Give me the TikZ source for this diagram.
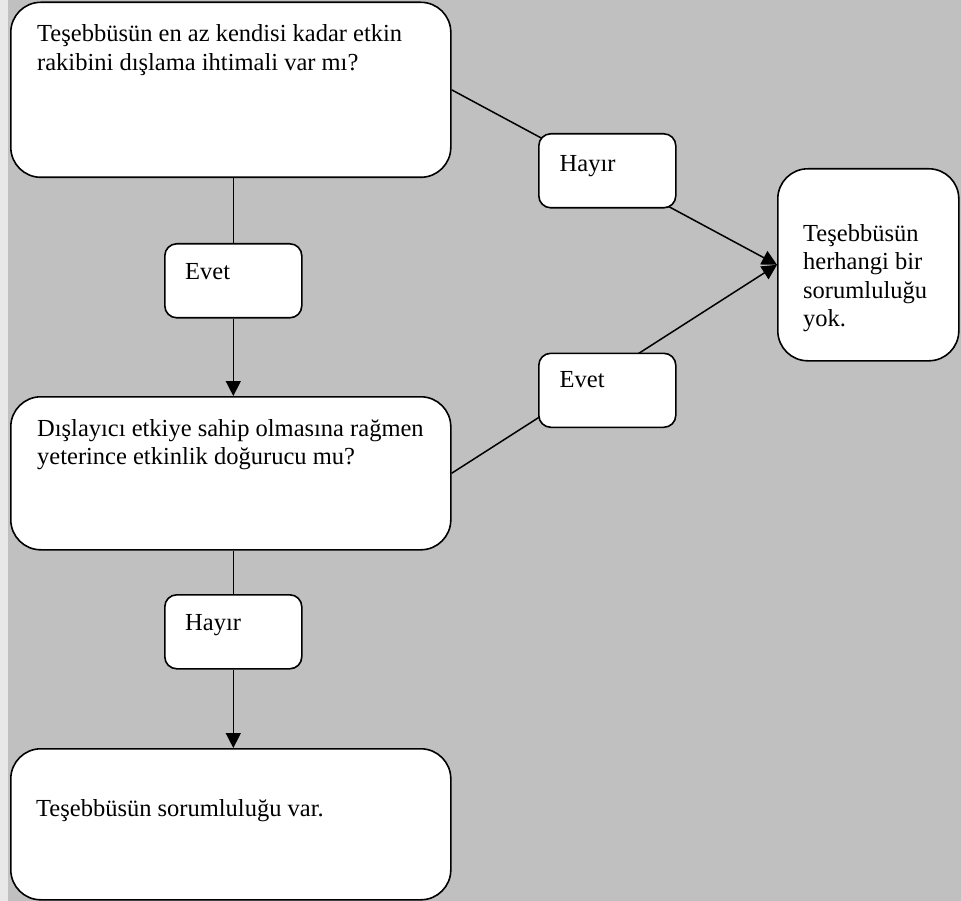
\documentclass[tikz,border=0pt]{standalone}
\usepackage{fontspec}
\setmainfont{Liberation Serif}
\usetikzlibrary{arrows.meta,backgrounds}
\definecolor{bggray}{RGB}{192,192,192}
\definecolor{stripgray}{RGB}{232,232,232}
\tikzset{
  bigbox/.style={draw=black,line width=1.6pt,fill=white,rounded corners=30pt,inner sep=0pt,anchor=north west},
  smallbox/.style={draw=black,line width=1.6pt,fill=white,rounded corners=12pt,inner sep=0pt,anchor=north west,minimum width=137pt,minimum height=74pt},
  txt/.style={anchor=north west,inner sep=0pt,align=left},
  conn/.style={line width=1.5pt,draw=black},
  arr/.style={conn,-{Triangle[length=15pt,width=15pt]}}
}
\begin{document}
\begin{tikzpicture}[x=1pt,y=-1pt]
\useasboundingbox (0,0) rectangle (961,901);
% boxes
\node[bigbox,minimum width=440pt,minimum height=175pt] (q1) at (10,1.5) {};
\node[bigbox,minimum width=440pt,minimum height=153pt] (q2) at (10,396) {};
\node[bigbox,minimum width=440pt,minimum height=151pt] (res) at (10,748) {};
\node[bigbox,minimum width=181pt,minimum height=192pt] (nores) at (777,168) {};
\node[smallbox] (evet1) at (164,243) {};
\node[smallbox] (hayir2) at (164,594) {};
\node[smallbox] (hayir1) at (538,133) {};
\node[smallbox] (evet2) at (538,352.5) {};
% texts
\node[txt,font=\fontsize{24.5pt}{29.3pt}\selectfont] (t1) at (37,24) {Teşebbüsün en az kendisi kadar etkin\\rakibini dışlama ihtimali var mı?};
\node[txt,font=\fontsize{24.5pt}{27.5pt}\selectfont] (t2) at (37,419.3) {Dışlayıcı etkiye sahip olmasına rağmen\\yeterince etkinlik doğurucu mu?};
\node[txt,font=\fontsize{24.5pt}{29pt}\selectfont] (t3) at (36,799) {Teşebbüsün sorumluluğu var.};
\node[txt,font=\fontsize{24.5pt}{28.5pt}\selectfont] (t4) at (803,224) {Teşebbüsün\\herhangi bir\\sorumluluğu\\yok.};
\node[txt,font=\fontsize{24.5pt}{29pt}\selectfont] (t5) at (185,263.5) {Evet};
\node[txt,font=\fontsize{24.5pt}{29pt}\selectfont] (t6) at (185,613.8) {Hayır};
\node[txt,font=\fontsize{24.5pt}{29pt}\selectfont] (t7) at (559.5,155) {Hayır};
\node[txt,font=\fontsize{24.5pt}{29pt}\selectfont] (t8) at (559.5,371.5) {Evet};
\begin{scope}[on background layer]
\fill[stripgray] (0,0) rectangle (961,901);
\fill[bggray] (8,0) rectangle (961,901);
\draw[conn] (q1.south -| evet1.north) -- (evet1.north);
\draw[arr] (evet1.south) -- (evet1.south |- q2.north);
\draw[conn] (q2.south -| hayir2.north) -- (hayir2.north);
\draw[arr] (hayir2.south) -- (hayir2.south |- res.north);
\draw[arr] (q1.east) -- (nores.west);
\draw[arr] (q2.east) -- (nores.west);
\end{scope}
\end{tikzpicture}
\end{document}
